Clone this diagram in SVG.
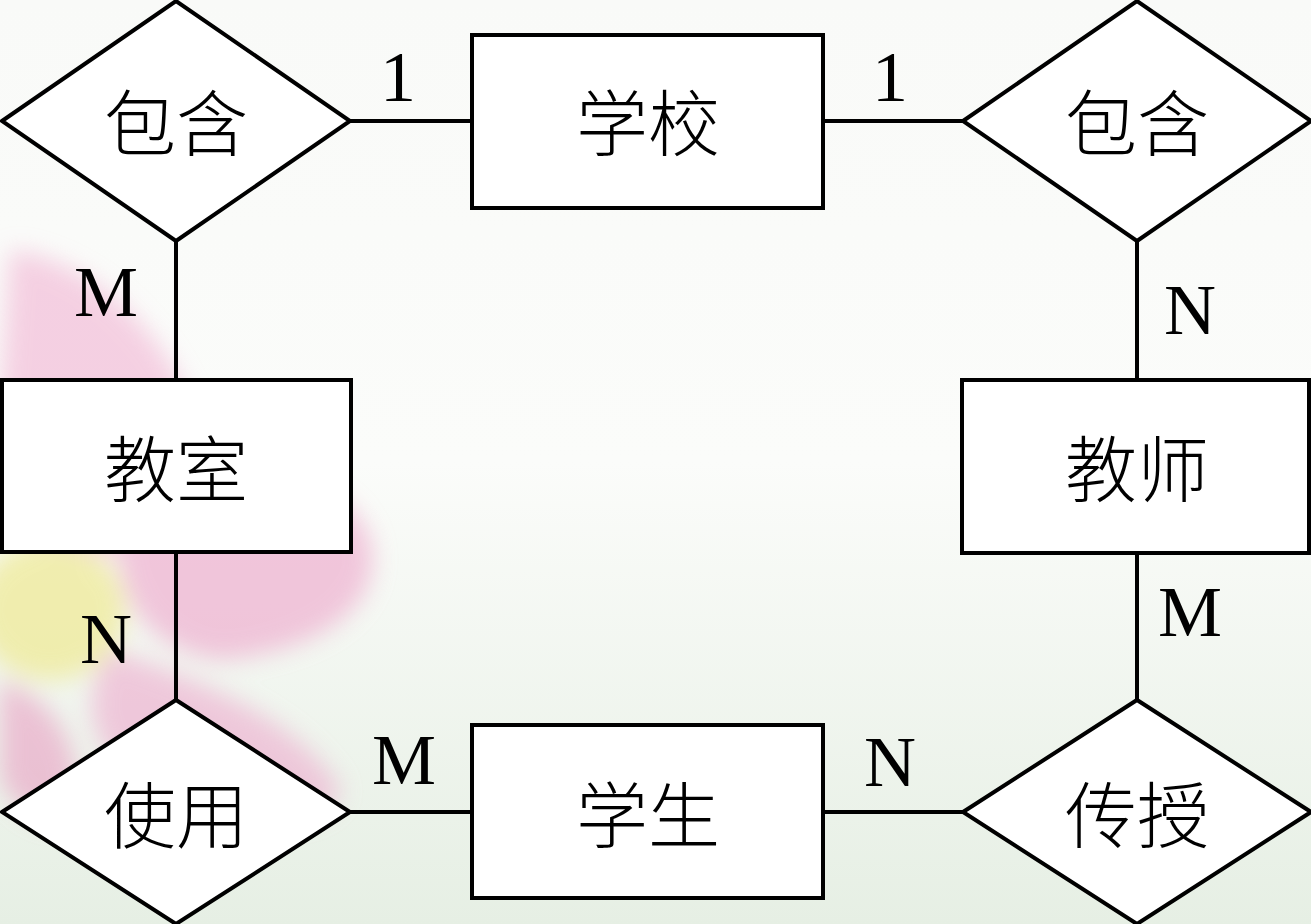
<svg xmlns="http://www.w3.org/2000/svg" width="1311" height="924" viewBox="0 0 1311 924">
<defs>
<linearGradient id="bg" x1="0" y1="0" x2="0" y2="1">
<stop offset="0" stop-color="#f9faf8"/>
<stop offset="0.5" stop-color="#fbfcfa"/>
<stop offset="1" stop-color="#e6efe4"/>
</linearGradient>
<filter id="blur" x="-20%" y="-20%" width="140%" height="140%"><feGaussianBlur stdDeviation="12"/></filter>
<style>
.shape{fill:#ffffff;stroke:#000000;stroke-width:4}
.edge{stroke:#000000;stroke-width:4;fill:none}
.zh{font-family:"Noto Sans CJK SC","Noto Sans CJK JP",sans-serif;font-size:72px;font-weight:300;fill:#000;text-anchor:middle;dominant-baseline:central}
.card{font-family:"Liberation Serif","Times New Roman",serif;font-size:72px;fill:#000;text-anchor:middle}
</style>
</defs>
<rect width="1311" height="924" fill="url(#bg)"/>
<g id="flower" filter="url(#blur)" opacity="0.65">
<path d="M10 250 C90 260 170 330 200 430 C215 500 150 560 60 560 C20 540 0 480 0 400 Z" fill="#f2b9d6"/>
<path d="M120 520 C220 460 340 460 370 540 C385 600 330 650 220 660 C150 650 110 600 120 520 Z" fill="#eeaacd"/>
<path d="M110 650 C200 680 300 720 340 790 C330 830 250 830 170 800 C100 770 70 710 110 650 Z" fill="#eeb0d0"/>
<path d="M0 680 C60 700 90 760 70 820 C40 830 10 800 0 780 Z" fill="#e9a6c6"/>
<ellipse cx="50" cy="610" rx="75" ry="70" fill="#eee88a"/>
</g>
<g id="connectors">
<line class="edge" x1="350" y1="121" x2="472" y2="121"/>
<line class="edge" x1="823" y1="121" x2="963" y2="121"/>
<line class="edge" x1="176" y1="241" x2="176" y2="380"/>
<line class="edge" x1="1137" y1="241" x2="1137" y2="380"/>
<line class="edge" x1="176" y1="552" x2="176" y2="700"/>
<line class="edge" x1="1137" y1="553" x2="1137" y2="700"/>
<line class="edge" x1="350" y1="812" x2="472" y2="812"/>
<line class="edge" x1="823" y1="812" x2="963" y2="812"/>
</g>
<g id="labels">
<text class="card" x="398" y="101">1</text>
<text class="card" x="890" y="101">1</text>
<text class="card" x="106" y="316">M</text>
<text class="card" x="1190" y="334">N</text>
<text class="card" x="106" y="663">N</text>
<text class="card" x="1190" y="636">M</text>
<text class="card" x="404" y="784">M</text>
<text class="card" x="890" y="786">N</text>
</g>
<g id="rel-contain-left">
<polygon class="shape" points="2,121 176,1 350,121 176,241"/>
<text class="zh" x="176" y="118">包含</text>
</g>
<g id="school">
<rect class="shape" x="472" y="35" width="351" height="173"/>
<text class="zh" x="648" y="118">学校</text>
</g>
<g id="rel-contain-right">
<polygon class="shape" points="963,121 1137,1 1311,121 1137,241"/>
<text class="zh" x="1137" y="118">包含</text>
</g>
<g id="classroom">
<rect class="shape" x="2" y="380" width="349" height="172"/>
<text class="zh" x="176" y="464">教室</text>
</g>
<g id="teacher">
<rect class="shape" x="962" y="380" width="347" height="173"/>
<text class="zh" x="1137" y="464">教师</text>
</g>
<g id="rel-use">
<polygon class="shape" points="2,812 176,700 350,812 176,924"/>
<text class="zh" x="176" y="810">使用</text>
</g>
<g id="student">
<rect class="shape" x="472" y="725" width="351" height="173"/>
<text class="zh" x="648" y="810">学生</text>
</g>
<g id="rel-teach">
<polygon class="shape" points="963,812 1137,700 1311,812 1137,924"/>
<text class="zh" x="1137" y="810">传授</text>
</g>
</svg>
